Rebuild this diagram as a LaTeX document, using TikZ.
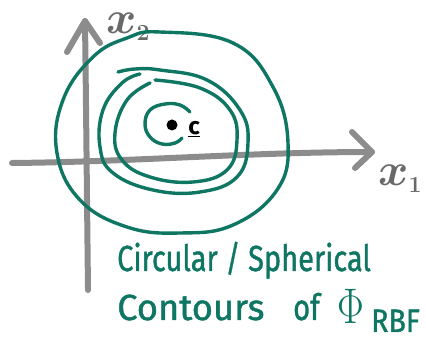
\RequirePackage{fix-cm}
\documentclass[tikz,border=0pt]{standalone}
\usepackage{fontspec}
\setmainfont{Fira Sans}
\newfontfamily\handfont[FakeBold=1.2]{Fira Sans}
\definecolor{ink}{RGB}{14,118,98}
\definecolor{axisgray}{RGB}{140,140,140}
\definecolor{labelgray}{RGB}{105,105,105}
\begin{document}
\begin{tikzpicture}[x=1pt,y=-1pt,
  axis/.style={draw=axisgray,line width=6pt,line cap=round,line join=round},
  contour/.style={draw=ink,line width=3.4pt,line cap=round},
  hand/.style={text=ink,inner sep=0pt,font=\handfont\fontsize{29}{32}\selectfont,yscale=1.25,transform shape},
  axlabel/.style={text=labelgray,inner sep=0pt,font=\fontsize{46}{48}\selectfont\boldmath}]
\useasboundingbox (0,0) rectangle (426,347);
% axes
\coordinate (ybot) at (88,290);
\coordinate (ytop) at (85,21);
\coordinate (yl) at (67,52);
\coordinate (yr) at (100,43);
\coordinate (xleft) at (12,163);
\coordinate (xright) at (372,152);
\coordinate (xu) at (352,132);
\coordinate (xd) at (355,168);
\draw[axis] (ybot) .. controls (87,200) and (86,100) .. (ytop);
\draw[axis] (yl) -- (ytop) -- (yr);
\draw[axis] (xleft) .. controls (130,162) and (250,152) .. (xright);
\draw[axis] (xu) -- (xright) -- (xd);
\node[axlabel,anchor=base west] (lx2) at (106,34) {$x_{\scriptscriptstyle 2}$};
\node[axlabel,anchor=base west] (lx1) at (378,186) {$x_{\scriptscriptstyle 1}$};
% contours
\draw[contour] plot[smooth cycle,tension=0.7] coordinates {
 (160,32) (233,43) (273,87) (288,143) (277,190) (233,225) (180,233)
 (127,227) (80,200) (57,153) (63,100) (93,57) (127,38)};
\draw[contour] plot[smooth,tension=0.7] coordinates {
 (118,72) (135,69) (160,70) (207,80) (240,110) (248,143) (237,177) (200,192)
 (153,190) (113,173) (100,147) (103,110) (122,83) (140,74)};
\draw[contour] plot[smooth,tension=0.7] coordinates {
 (155,80) (200,88) (230,110) (237,140) (227,170) (193,182)
 (150,177) (122,160) (115,133) (127,100) (150,83)};
\draw[contour] plot[smooth,tension=0.7] coordinates {
 (190,112) (180,105) (165,104) (150,110) (145,124) (150,137) (162,144) (175,143) (182,138)};
\fill (172,125) circle (5.5) coordinate (cdot);
\node[inner sep=0pt,font=\fontsize{24}{26}\selectfont] (cvec) at (194,129) {$\underline{\mathbf{c}}$};
% text
\node[hand,anchor=base west] (t1) at (117,271) {Circular / Spherical};
\node[hand,anchor=base west,xscale=1.25] (t2) at (117,320) {Contours};
\node[hand,anchor=base west] (t3) at (293,320) {of};
\node[hand,anchor=base west,font=\fontsize{40}{42}\selectfont] (t4) at (337,324) {$\Phi$};
\node[hand,anchor=base west,font=\handfont\fontsize{26}{28}\selectfont,xscale=1.1] (t5) at (371,332) {RBF};
\end{tikzpicture}
\end{document}
